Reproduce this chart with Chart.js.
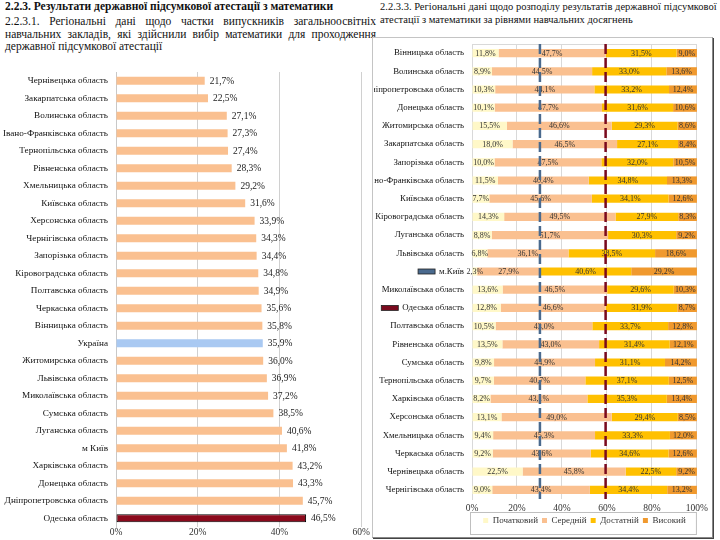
<!DOCTYPE html>
<html>
<head>
<meta charset="utf-8">
<script src="https://cdn.jsdelivr.net/npm/chart.js@4"></script>
<style>
  html,body{margin:0;padding:0;background:#fff;}
  body{width:720px;height:540px;position:relative;overflow:hidden;font-family:"Liberation Serif","DejaVu Serif",serif;color:#111;}
  .t{position:absolute;white-space:nowrap;}
  .j{position:absolute;text-align:justify;text-align-last:justify;white-space:normal;}
  #frame{position:absolute;left:372px;top:37px;width:339px;height:499px;border:1px solid #c4c4c4;border-right:1px solid #888;border-bottom:1px solid #888;box-shadow:1px 1px 0 #444;}
  canvas{position:absolute;}
</style>
</head>
<body>
<div class="t" style="left:5px;top:0px;font-size:11.5px;font-weight:bold;">2.2.3. Результати державної підсумкової атестації з математики</div>
<div class="j" style="left:5px;top:15px;width:371px;font-size:11.5px;">2.2.3.1. Регіональні дані щодо частки випускників загальноосвітніх</div>
<div class="j" style="left:5px;top:28px;width:371px;font-size:11.5px;">навчальних закладів, які здійснили вибір математики для проходження</div>
<div class="t" style="left:5px;top:40px;font-size:11.5px;">державної підсумкової атестації</div>
<div class="t" style="left:380px;top:1px;font-size:10.5px;">2.2.3.3. Регіональні дані щодо розподілу результатів державної підсумкової</div>
<div class="t" style="left:380px;top:14px;font-size:10.5px;">атестації з математики за рівнями навчальних досягнень</div>
<div id="frame"></div>
<canvas id="left" width="370" height="480" style="left:0px;top:60px;width:370px;height:480px;"></canvas>
<canvas id="right" width="338" height="498" style="left:374px;top:38px;width:338px;height:498px;"></canvas>
<script>
// ---------- Left chart data ----------
const leftCategories = ['Чернівецька область','Закарпатська область','Волинська область','Івано-Франківська область','Тернопільська область','Рівненська область','Хмельницька область','Київська область','Херсонська область','Чернігівська область','Запорізька область','Кіровоградська область','Полтавська область','Черкаська область','Вінницька область','Україна','Житомирська область','Львівська область','Миколаївська область','Сумська область','Луганська область','м Київ','Харківська область','Донецька область','Дніпропетровська область','Одеська область'];
const leftValues = [21.7,22.5,27.1,27.3,27.4,28.3,29.2,31.6,33.9,34.3,34.4,34.8,34.9,35.6,35.8,35.9,36.0,36.9,37.2,38.5,40.6,41.8,43.2,43.3,45.7,46.5];
const leftTickLabels = ['0%','20%','40%','60%'];

// ---------- Right chart data ----------
const rightCategories = ['Вінницька область','Волинська область','Дніпропетровська область','Донецька область','Житомирська область','Закарпатська область','Запорізька область','Івано-Франківська область','Київська область','Кіровоградська область','Луганська область','Львівська область','м.Київ','Миколаївська область','Одеська область','Полтавська область','Рівненська область','Сумська область','Тернопільська область','Харківська область','Херсонська область','Хмельницька область','Черкаська область','Чернівецька область','Чернігівська область'];
const levelNames = ['Початковий','Середній','Достатній','Високий'];
const lowLevel  = [11.8,8.9,10.3,10.1,15.5,18.0,10.0,11.5,7.7,14.3,8.8,6.8,2.3,13.6,12.8,10.5,13.5,9.8,9.7,8.2,13.1,9.4,9.2,22.5,9.0];
const midLevel  = [47.7,44.5,44.1,47.7,46.6,46.5,47.5,40.4,45.6,49.5,51.7,36.1,27.9,46.5,46.6,43.0,43.0,44.9,40.7,43.1,49.0,45.3,43.6,45.8,43.4];
const suffLevel = [31.5,33.0,33.2,31.6,29.3,27.1,32.0,34.8,34.1,27.9,30.3,38.5,40.6,29.6,31.9,33.7,31.4,31.1,37.1,35.3,29.4,33.3,34.6,22.5,34.4];
const highLevel = [9.0,13.6,12.4,10.6,8.6,8.4,10.5,13.3,12.6,8.3,9.2,18.6,29.2,10.3,8.7,12.8,12.1,14.2,12.5,13.4,8.5,12.0,12.6,9.2,13.2];
const rightTickLabels = ['0%','20%','40%','60%','80%','100%'];
const markedRegions = ['м.Київ','Одеська область'];

const SERIF = '"Liberation Serif","DejaVu Serif",serif';
const fmt = v => v.toFixed(1).replace('.', ',') + '%';
const RIGHT_LABEL_SIZE = 8.8;

const valueLabels = {
  id: 'valueLabels',
  afterDatasetsDraw(chart, args, opts) {
    const ctx = chart.ctx;
    ctx.save();
    ctx.font = opts.font;
    ctx.fillStyle = opts.color;
    ctx.textBaseline = 'middle';
    chart.data.datasets.forEach((ds, di) => {
      const meta = chart.getDatasetMeta(di);
      meta.data.forEach((bar, i) => {
        const txt = fmt(ds.data[i]);
        if (opts.mode === 'end') {
          ctx.textAlign = 'left';
          ctx.fillText(txt, bar.x + opts.offset, bar.y + 0.5);
        } else {
          ctx.textAlign = 'center';
          ctx.fillText(txt, (bar.x + bar.base) / 2, bar.y + 0.5);
        }
      });
    });
    ctx.restore();
  }
};

const refLines = {
  id: 'refLines',
  afterDraw(chart, args, opts) {
    const ctx = chart.ctx, xs = chart.scales.x, ys = chart.scales.y, ca = chart.chartArea;
    ctx.save();
    ctx.strokeStyle = '#d9d9d9'; ctx.lineWidth = 1;
    ctx.beginPath(); ctx.moveTo(ca.left, ca.top + 0.5); ctx.lineTo(ca.right, ca.top + 0.5); ctx.stroke();
    opts.lines.forEach(l => {
      const idx = rightCategories.indexOf(l.region);
      const val = lowLevel[idx] + midLevel[idx];
      const x = xs.getPixelForValue(val);
      ctx.strokeStyle = l.color; ctx.lineWidth = 2.5; ctx.setLineDash([10, 4]);
      ctx.beginPath(); ctx.moveTo(x, ca.top); ctx.lineTo(x, ca.bottom); ctx.stroke();
      ctx.setLineDash([]);
      ctx.font = RIGHT_LABEL_SIZE + 'px ' + SERIF;
      const y = ys.getPixelForValue(idx);
      const w = ctx.measureText(l.region).width;
      const rx = ca.left - 8 - w - 4 - 17;
      ctx.fillStyle = l.color; ctx.fillRect(rx, y - 2.5, 17, 5);
      ctx.strokeStyle = '#222'; ctx.lineWidth = 0.8; ctx.strokeRect(rx, y - 2.5, 17, 5);
    });
    const lg = chart.legend;
    ctx.strokeStyle = '#bfbfbf'; ctx.lineWidth = 1;
    ctx.strokeRect(lg.left - 2 + 0.5, lg.top + 0.5, lg.width + 1, lg.height - 1);
    ctx.restore();
  }
};

// ---------- Left chart ----------
new Chart(document.getElementById('left'), {
  type: 'bar',
  data: {
    labels: leftCategories,
    datasets: [{
      data: leftValues,
      backgroundColor: leftCategories.map(c => c === 'Україна' ? '#A9C9F2' : (c === 'Одеська область' ? '#8B0A1C' : '#FAC090')),
      borderColor: leftCategories.map(c => c === 'Одеська область' ? '#000' : 'rgba(0,0,0,0)'),
      borderWidth: leftCategories.map(c => c === 'Одеська область' ? 1 : 0),
      borderSkipped: false,
      barPercentage: 0.45,
      categoryPercentage: 1
    }]
  },
  options: {
    indexAxis: 'y', responsive: false, animation: false, devicePixelRatio: 1,
    layout: { padding: { left: 0, right: 8, top: 12, bottom: 0 } },
    scales: {
      x: {
        min: 0, max: 60,
        ticks: { stepSize: 20, callback: (v, i) => leftTickLabels[i], font: { family: SERIF, size: 9.5 }, color: '#333', padding: 0 },
        grid: { color: '#d0d0d0', drawTicks: false },
        border: { display: false },
        afterFit: s => { s.height = 13; }
      },
      y: {
        ticks: { autoSkip: false, font: { family: SERIF, size: 9.2 }, color: '#111', padding: 8 },
        grid: { display: false, drawTicks: false },
        border: { display: true, color: '#c8c8c8' },
        afterFit: s => { s.width = 116; s.paddingTop = 0; s.paddingBottom = 0; }
      }
    },
    plugins: {
      legend: { display: false },
      tooltip: { enabled: false },
      valueLabels: { mode: 'end', offset: 5, font: '9.5px ' + SERIF, color: '#222' }
    }
  },
  plugins: [valueLabels]
});

// ---------- Right chart ----------
const levelColors = ['#FFF8C8', '#FAC090', '#FFC000', '#F0992E'];
const levelData = [lowLevel, midLevel, suffLevel, highLevel];
new Chart(document.getElementById('right'), {
  type: 'bar',
  data: {
    labels: rightCategories,
    datasets: levelNames.map((n, k) => ({
      label: n, data: levelData[k], backgroundColor: levelColors[k],
      barPercentage: 0.45, categoryPercentage: 1
    }))
  },
  options: {
    indexAxis: 'y', responsive: false, animation: false, devicePixelRatio: 1,
    layout: { padding: { left: 0, right: 10, top: 6, bottom: 1 } },
    scales: {
      x: {
        stacked: true, min: 0, max: 100,
        ticks: { stepSize: 20, callback: (v, i) => rightTickLabels[i], font: { family: SERIF, size: 9.5 }, color: '#333', padding: 4 },
        grid: { color: '#d9d9d9', drawTicks: false },
        border: { display: false },
        afterFit: s => { s.height = 13; }
      },
      y: {
        stacked: true,
        ticks: { autoSkip: false, font: { family: SERIF, size: RIGHT_LABEL_SIZE }, color: '#111', padding: 8 },
        grid: { display: false, drawTicks: false },
        border: { display: true, color: '#d9d9d9' },
        afterFit: s => { s.width = 98; s.paddingTop = 0; s.paddingBottom = 0; }
      }
    },
    plugins: {
      legend: {
        position: 'bottom', fullSize: false,
        labels: { boxWidth: 5, boxHeight: 5, padding: 4, font: { family: SERIF, size: 9 }, color: '#333' }
      },
      tooltip: { enabled: false },
      valueLabels: { mode: 'center', font: '8px ' + SERIF, color: '#333' },
      refLines: { lines: [ { region: markedRegions[0], color: '#4A6A8E' }, { region: markedRegions[1], color: '#7A0A1E' } ] }
    }
  },
  plugins: [valueLabels, refLines]
});
</script>
</body>
</html>
